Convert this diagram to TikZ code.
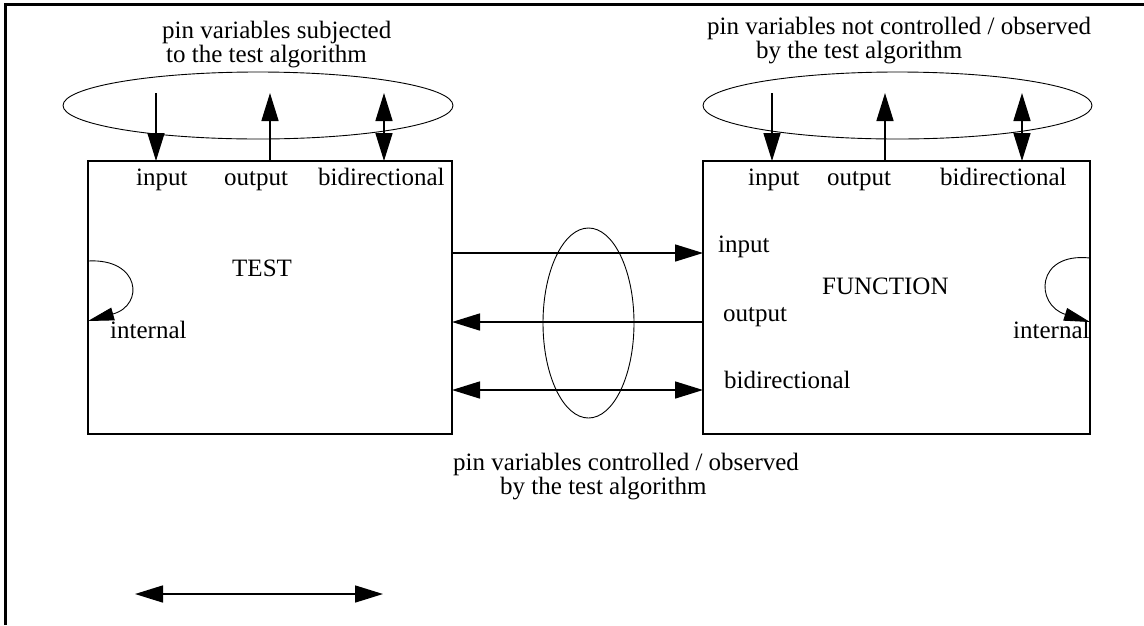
\documentclass[tikz,border=0pt]{standalone}
\usepackage{fontspec}
\setmainfont{Liberation Serif}
\usetikzlibrary{arrows.meta,shapes.geometric}
\begin{document}
\begin{tikzpicture}[x=1pt,y=-1pt,
  lbl/.style={font=\fontsize{25}{22}\selectfont, inner sep=0pt, anchor=base west, align=left},
  box/.style={draw, line width=1.6pt, rectangle, inner sep=0pt, outer sep=0pt},
  oval/.style={draw, line width=0.9pt, ellipse, inner sep=0pt, outer sep=0pt},
  head/.tip={Triangle[length=28pt,width=17pt]},
  arr/.style={line width=1.6pt, -head},
  barr/.style={line width=1.6pt, head-head},
  loop/.style={line width=0.9pt, -{Triangle[length=26pt,width=13pt]}},
]
\useasboundingbox (0,0) rectangle (1144,625);
% frame
\draw[line width=3pt] (5,625) -- (5,4.5) -- (1144,4.5);

% boxes
\node[box, minimum width=364pt, minimum height=273pt] (test) at (270,297.5) {};
\node[box, minimum width=387pt, minimum height=273pt] (func) at (896.5,297.5) {};

% ellipses
\node[oval, minimum width=390pt, minimum height=67pt] (ovL) at (258,105.5) {};
\node[oval, minimum width=389pt, minimum height=67pt] (ovR) at (897.5,105.5) {};
\node[oval, minimum width=91pt, minimum height=190pt] (ovM) at (588.5,323) {};

% titles (anchor = baseline of the last line)
\node[lbl] (tl) at (162,62) {pin variables subjected\\\hspace*{4pt}to the test algorithm};
\node[lbl] (tr) at (707,58) {pin variables not controlled / observed\\\hspace*{49pt}by the test algorithm};
\node[lbl] (tm) at (453,494) {pin variables controlled / observed\\\hspace*{47pt}by the test algorithm};

% box labels
\node[lbl] (ti) at (136,185) {input};
\node[lbl] (to) at (224,185) {output};
\node[lbl] (tb) at (318,185) {bidirectional};
\node[lbl] (fi) at (748,185) {input};
\node[lbl] (fo) at (827,185) {output};
\node[lbl] (fb) at (940,185) {bidirectional};
\node[lbl] (tt) at (232,276) {TEST};
\node[lbl] (ff) at (822,294) {FUNCTION};
\node[lbl] (fsi) at (718,252) {input};
\node[lbl] (fso) at (723,321) {output};
\node[lbl] (fsb) at (724,388) {bidirectional};
\node[lbl] (tint) at (110,338) {internal};
\node[lbl] (fint) at (1013,338) {internal};

% top arrow anchor points
\coordinate (a1) at (156,93);
\coordinate (a2) at (270,93);
\coordinate (a3) at (384,93);
\coordinate (b1) at (772,93);
\coordinate (b2) at (885,93);
\coordinate (b3) at (1022,93);
\draw[arr] (a1) -- (a1 |- test.north);
\draw[arr] (a2 |- test.north) -- (a2);
\draw[barr] (a3) -- (a3 |- test.north);
\draw[arr] (b1) -- (b1 |- func.north);
\draw[arr] (b2 |- func.north) -- (b2);
\draw[barr] (b3) -- (b3 |- func.north);

% middle arrows
\coordinate (y1) at (0,253);
\coordinate (y2) at (0,322);
\coordinate (y3) at (0,390);
\draw[arr] (test.east |- y1) -- (func.west |- y1);
\draw[arr] (func.west |- y2) -- (test.east |- y2);
\draw[barr] (test.east |- y3) -- (func.west |- y3);

% internal loops
\coordinate (il1) at (88,261);
\coordinate (il2) at (88,321);
\coordinate (ir1) at (1090,258);
\coordinate (ir2) at (1090,322);
\draw[loop] (il1) .. controls (140,258) and (145,305) .. (il2);
\draw[loop] (ir1) .. controls (1035,252) and (1035,305) .. (ir2);

% legend arrow
\coordinate (l1) at (135,594);
\coordinate (l2) at (383,594);
\draw[barr] (l1) -- (l2);
\end{tikzpicture}
\end{document}
